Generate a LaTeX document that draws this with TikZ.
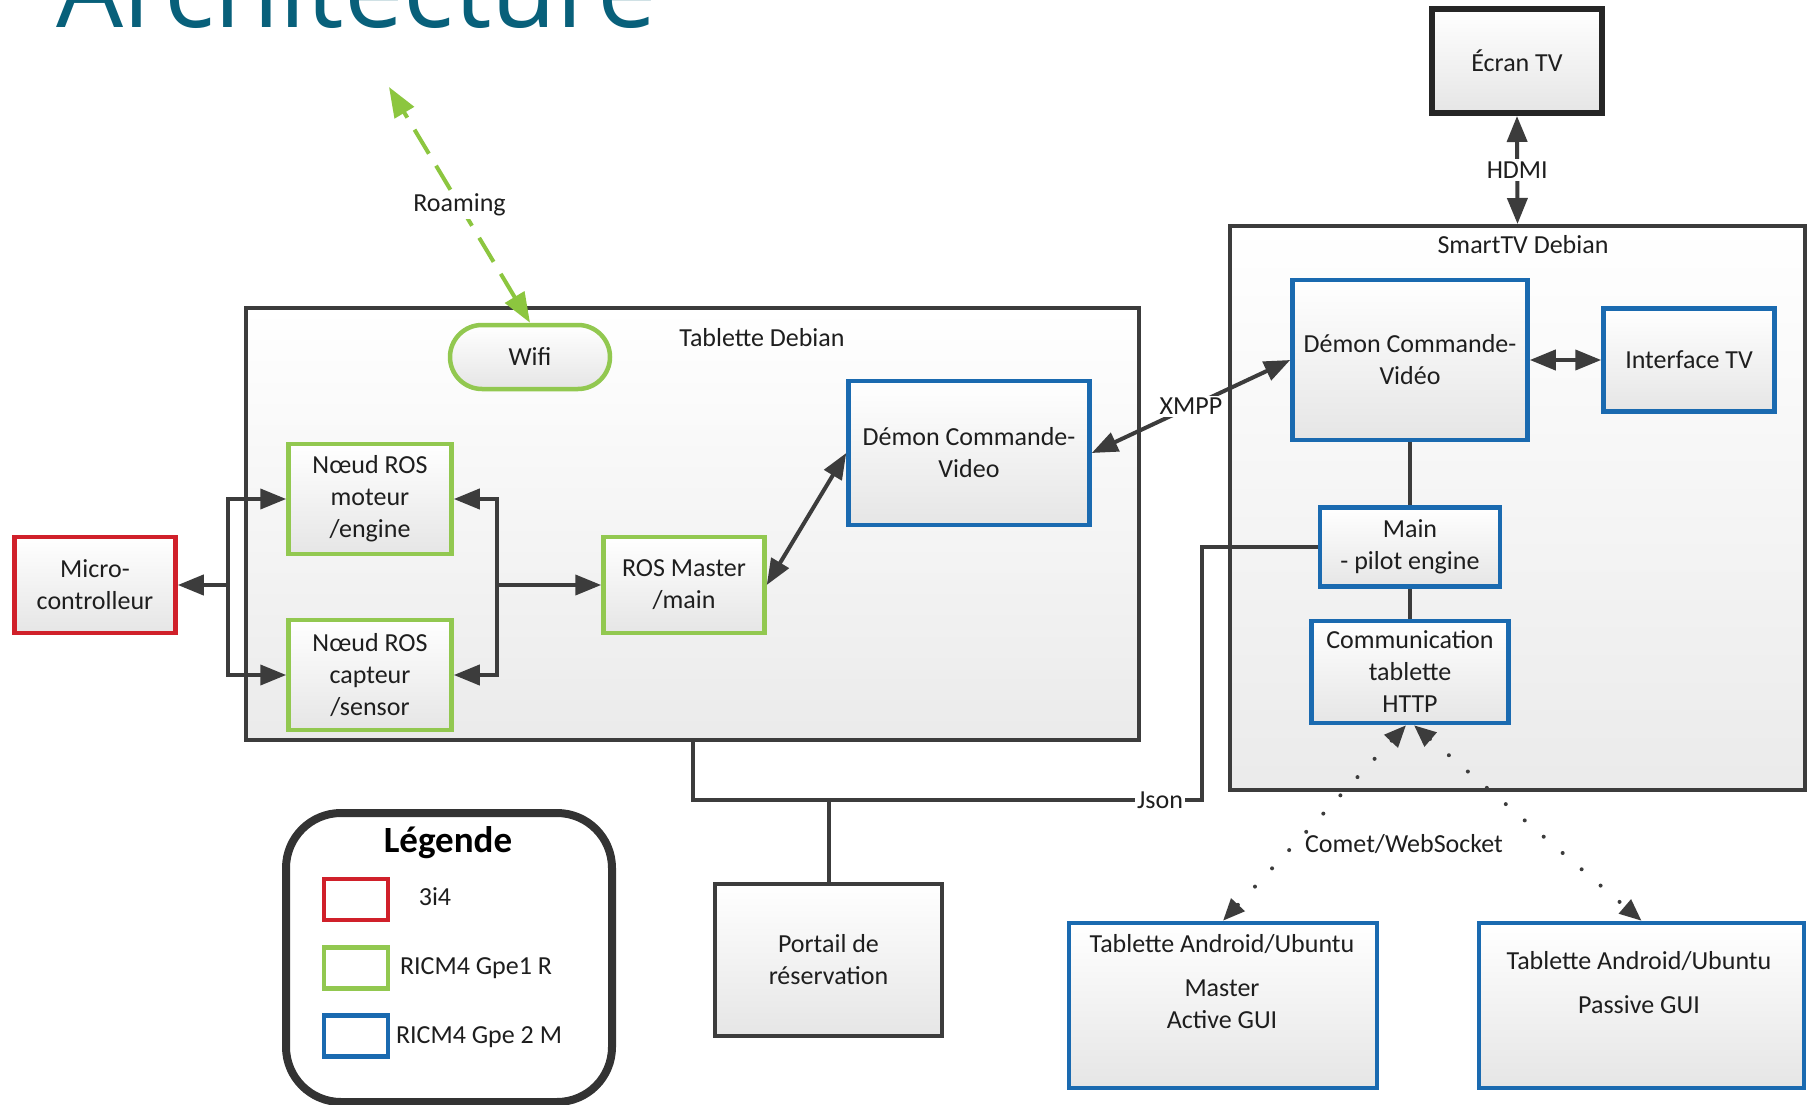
\documentclass[tikz,border=0pt]{standalone}
\usepackage{fontspec}
\setmainfont{Carlito}
\newfontfamily\titlefont{Open Sans}
\usetikzlibrary{arrows.meta}
\definecolor{cgreen}{RGB}{146,200,80}
\definecolor{croam}{RGB}{140,198,63}
\definecolor{cblue}{RGB}{26,106,176}
\definecolor{cred}{RGB}{208,32,42}
\definecolor{cdark}{RGB}{60,60,60}
\definecolor{ctitle}{RGB}{8,96,122}
\definecolor{ctext}{RGB}{30,30,30}
\begin{document}
\begin{tikzpicture}[x=1pt,y=-1pt,
  every node/.style={font=\fontsize{26}{32}\selectfont, text=ctext, align=center, inner sep=0pt},
  shade box/.style={top color=white, bottom color=black!10},
  gbox/.style={draw=cgreen, line width=4.5pt, shade box},
  bbox/.style={draw=cblue, line width=4.5pt, shade box},
  rbox/.style={draw=cred, line width=4.5pt, shade box},
  kbox/.style={draw=cdark, line width=4.5pt, shade box},
  cont/.style={draw=cdark, line width=4pt, top color=white, bottom color=black!8},
  conn/.style={draw=cdark, line width=4pt},
  arr/.style={conn, -{Triangle[length=26pt,width=20pt]}},
  arrb/.style={conn, {Triangle[length=26pt,width=20pt]}-{Triangle[length=26pt,width=20pt]}},
  dotarr/.style={draw=cdark, line width=4pt, line cap=round, dash pattern=on 0pt off 25pt,
     {Triangle[length=22pt,width=18pt]}-{Triangle[length=22pt,width=18pt]}},
  roamarr/.style={draw=croam, line width=4pt, dash pattern=on 28pt off 14pt,
     {Triangle[length=30pt,width=22pt]}-{Triangle[length=30pt,width=22pt]}},
  swatch/.style={line width=4.5pt, fill=white, minimum width=64pt, minimum height=41pt}
]
\useasboundingbox (0,0) rectangle (1810,1105);
\clip (0,0) rectangle (1810,1105);
\fill[white] (0,0) rectangle (1810,1105);

% title
\node[font=\titlefont\fontsize{106}{106}\selectfont, text=ctitle, anchor=base west] (title) at (56,28) {Architecture};

% containers
\node[cont, minimum width=893pt, minimum height=432pt] (tab) at (692.5,524) {};
\node (tabl) at (762,338) {Tablette Debian};
\node[cont, minimum width=575pt, minimum height=564pt] (smart) at (1517.5,508) {};
\node (smartl) at (1523,245) {SmartTV Debian};

% tablette debian content
\node[rbox, minimum width=161pt, minimum height=96pt] (micro) at (95,585) {Micro-\\controlleur};
\node[gbox, rounded corners=32pt, minimum width=160pt, minimum height=64pt] (wifi) at (530,357) {Wifi};
\node[gbox, minimum width=163pt, minimum height=110pt] (moteur) at (370,499) {Nœud ROS\\moteur\\/engine};
\node[gbox, minimum width=163pt, minimum height=110pt] (capteur) at (370,675) {Nœud ROS\\capteur\\/sensor};
\node[gbox, minimum width=161pt, minimum height=96pt] (rosm) at (684,585) {ROS Master\\/main};
\node[bbox, minimum width=241pt, minimum height=144pt] (demonL) at (969,453) {Démon Commande-\\Video};

% smart tv content
\node[kbox, draw=black!85, line width=6pt, minimum width=170pt, minimum height=104pt] (ecran) at (1517,61) {Écran TV};
\node[bbox, minimum width=235pt, minimum height=160pt] (demonR) at (1410,360) {Démon Commande-\\Vidéo};
\node[bbox, minimum width=171pt, minimum height=103pt] (iface) at (1689,360) {Interface TV};
\node[bbox, minimum width=180pt, minimum height=79pt] (main) at (1410,547) {Main\\- pilot engine};
\node[bbox, minimum width=197pt, minimum height=102pt] (comm) at (1410,672) {Communication\\tablette\\HTTP};

% bottom
\node[kbox, minimum width=227pt, minimum height=152pt] (portail) at (828.5,960) {Portail de\\réservation};
\node[bbox, minimum width=308pt, minimum height=165pt] (tabA) at (1223,1005.5) {};
\node (tabAt) at (1222,982) {Tablette Android/Ubuntu\\[12pt]Master\\Active GUI};
\node[bbox, minimum width=325pt, minimum height=165pt] (tabP) at (1641.5,1005.5) {};
\node (tabPt) at (1639,983) {Tablette Android/Ubuntu\\[12pt]Passive GUI};

% legend
\node[draw=black!80, line width=8pt, rounded corners=55pt, fill=white, minimum width=326pt, minimum height=289pt] (leg) at (449,957.5) {};
\node[font=\bfseries\fontsize{37}{42}\selectfont, text=black] (legt) at (448,843) {Légende};
\node[swatch, draw=cred] (sw1) at (356,899.5) {};
\node[swatch, draw=cgreen] (sw2) at (356,968) {};
\node[swatch, draw=cblue] (sw3) at (356,1036) {};
\node (lab1) at (435,897) {3i4};
\node (lab2) at (476,968) {RICM4 Gpe1 R};
\node (lab3) at (479,1037) {RICM4 Gpe 2 M};

% coordinates
\coordinate (lbus) at (228,585);
\coordinate (rbus) at (497,585);
\coordinate (jc) at (1202,800);
\coordinate (roam) at (389,87);

% connectors
\draw[arr] (lbus) -- (micro.east);
\draw[arr] (lbus) |- (moteur.west);
\draw[arr] (lbus) |- (capteur.west);
\draw[arr] (rbus) |- (moteur.east);
\draw[arr] (rbus) |- (capteur.east);
\draw[arr] (rbus) -- (rosm.west);
\draw[arrb] (rosm.east) -- (demonL.west);
\draw[arrb] (demonL.east) -- node[fill=white, inner sep=2pt] (xmpp) {XMPP} (demonR.west);
\draw[arrb] (ecran.south) -- node[fill=white, inner sep=3pt] (hdmi) {HDMI} (smart.north);
\draw[arrb] (demonR.east) -- (iface.west);
\draw[conn] (demonR.south) -- (main.north);
\draw[conn] (main.south) -- (comm.north);
\draw[conn] (main.west) -| (jc) -| (tab.south);
\node[fill=white, inner sep=2pt] (json) at (1160,800) {Json};
\draw[conn] (portail.north) -- (portail.north |- jc);
\draw[dotarr] ([xshift=-4pt]comm.south) -- (tabA.north);
\draw[dotarr] ([xshift=4pt]comm.south) -- (tabP.north);
\node (comet) at (1404,844) {Comet/WebSocket};
\draw[roamarr] (wifi.north) -- node[fill=white, inner sep=3pt] (roaming) {Roaming} (roam);
\end{tikzpicture}
\end{document}
